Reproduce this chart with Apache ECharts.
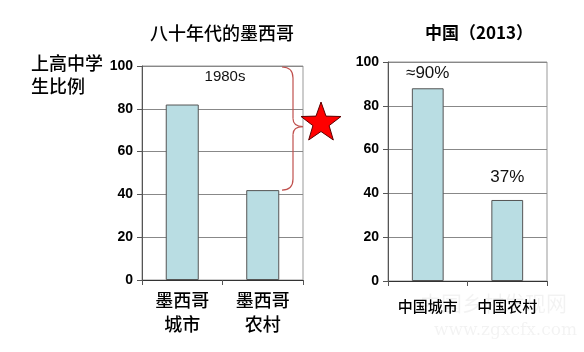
<!DOCTYPE html>
<html><head><meta charset="utf-8">
<script src="https://cdn.jsdelivr.net/npm/echarts@6/dist/echarts.min.js"></script>
<style>html,body{margin:0;padding:0;background:#fff}#c{width:584px;height:352px}</style>
</head><body><div id="c"></div>
<script>
// ---- data ----
const leftTitle = '八十年代的墨西哥';
const rightTitle = '中国（2013）';
const yAxisName = '上高中学\n生比例';
const leftCategories = ['墨西哥\n城市', '墨西哥\n农村'];
const leftValues = [82, 42];
const leftNote = '1980s';
const rightCategories = ['中国城市', '中国农村'];
const rightValues = [88, 37];
const rightLabels = ['≈90%', '37%'];
const yTicks = [0, 20, 40, 60, 80, 100];

const CJK = '"Noto Sans CJK SC","Noto Sans",sans-serif';
const NUM = '"Liberation Sans",Arial,sans-serif';
const barColor = '#b9dde3';
const chart = echarts.init(document.getElementById('c'));

function yAxis(gi) {
  return {
    type: 'value', gridIndex: gi, min: yTicks[0], max: yTicks[yTicks.length - 1], interval: yTicks[1] - yTicks[0],
    axisLine: { show: true, lineStyle: { color: '#555', width: 1 } },
    axisTick: { show: true, length: 5, lineStyle: { color: '#555' } },
    axisLabel: { margin: 9, color: '#000', fontFamily: NUM, fontWeight: 'bold', fontSize: 14 },
    splitLine: { show: true, lineStyle: { color: '#888', width: 1 } }
  };
}
function xAxis(gi, cats, fs, lh, margin) {
  return {
    type: 'category', gridIndex: gi, data: cats,
    axisLine: { show: true, lineStyle: { color: '#333', width: 1.2 } },
    axisTick: { show: true, length: 5, alignWithLabel: false, lineStyle: { color: '#555' } },
    axisLabel: { margin: margin, color: '#000', fontFamily: CJK, fontWeight: 500, fontSize: fs, lineHeight: lh }
  };
}

chart.setOption({
  animation: false,
  title: [
    { text: leftTitle, left: 217, top: 19, textAlign: 'center', textStyle: { fontFamily: CJK, fontSize: 18, fontWeight: 500, color: '#000' } },
    { text: rightTitle, left: 474, top: 19, textAlign: 'center', textStyle: { fontFamily: CJK, fontSize: 17, fontWeight: 'bold', color: '#000' } },
    { text: yAxisName, left: 26, top: 47, textStyle: { fontFamily: CJK, fontSize: 18, fontWeight: 500, color: '#000', lineHeight: 23 } },
    { text: leftNote, left: 220, top: 64, textAlign: 'center', textStyle: { fontFamily: NUM, fontSize: 15, fontWeight: 'normal', color: '#111' } }
  ],
  grid: [
    { left: 142, right: 281, top: 66, bottom: 72, show: true, borderColor: '#999', borderWidth: 1 },
    { left: 388, right: 37, top: 62, bottom: 71, show: true, borderColor: '#999', borderWidth: 1 }
  ],
  xAxis: [xAxis(0, leftCategories, 18, 24, 8), xAxis(1, rightCategories, 15, 18, 16)],
  yAxis: [yAxis(0), yAxis(1)],
  series: [
    { type: 'bar', xAxisIndex: 0, yAxisIndex: 0, data: leftValues, barWidth: '41%',
      itemStyle: { color: barColor, borderColor: '#555', borderWidth: 1 } },
    { type: 'bar', xAxisIndex: 1, yAxisIndex: 1, barWidth: '40%',
      data: rightValues.map((v, i) => ({ value: v, label: { show: true, position: 'top', distance: i === 0 ? 6 : 14, formatter: rightLabels[i] } })),
      label: { color: '#111', fontFamily: NUM, fontSize: 17 },
      itemStyle: { color: barColor, borderColor: '#555', borderWidth: 1 } }
  ]
});

// annotation: brace from 100 down to rural bar level, plus red star
const yT = chart.convertToPixel({ yAxisIndex: 0 }, yTicks[yTicks.length - 1]) + 1;
const yB = chart.convertToPixel({ yAxisIndex: 0 }, leftValues[1]);
const xR = 303, xL = xR - 21, xM = xR - 10;
const ym = (yT + yB) / 2 - 2;
const braceStyle = { fill: null, stroke: '#c0504d', lineWidth: 1.2 };
function q(x1, y1, cx, cy, x2, y2) {
  return { type: 'bezierCurve', z: 10, shape: { x1, y1, cpx1: cx, cpy1: cy, x2, y2 }, style: braceStyle };
}
function ln(x1, y1, x2, y2) {
  return { type: 'line', z: 10, shape: { x1, y1, x2, y2 }, style: braceStyle };
}
const cx = 321, cy = 123, R = 21, r = 8.5;
const pts = [];
for (let k = 0; k < 10; k++) {
  const a = -Math.PI / 2 + k * Math.PI / 5;
  const rr = k % 2 === 0 ? R : r;
  pts.push([cx + rr * Math.cos(a), cy + rr * Math.sin(a)]);
}
chart.setOption({
  graphic: [
    q(xL, yT, xM, yT, xM, yT + 11),
    ln(xM, yT + 11, xM, ym - 8),
    q(xM, ym - 8, xM, ym, xR, ym),
    q(xR, ym, xM, ym, xM, ym + 8),
    ln(xM, ym + 8, xM, yB - 11),
    q(xM, yB - 11, xM, yB, xL, yB),
    { type: 'polygon', shape: { points: pts }, style: { fill: '#ff0000', stroke: '#5a0000', lineWidth: 1 }, z: 10 },
    { type: 'text', left: 420, top: 293, z: -1, style: { text: '中国乡村发现网', font: '21px "Noto Sans CJK SC"', fill: 'rgba(0,0,0,0.05)' } },
    { type: 'text', left: 434, top: 322, z: -1, style: { text: 'www.zgxcfx.com', font: '17px "DejaVu Serif"', fill: 'rgba(0,0,0,0.05)' } }
  ]
});
</script></body></html>
